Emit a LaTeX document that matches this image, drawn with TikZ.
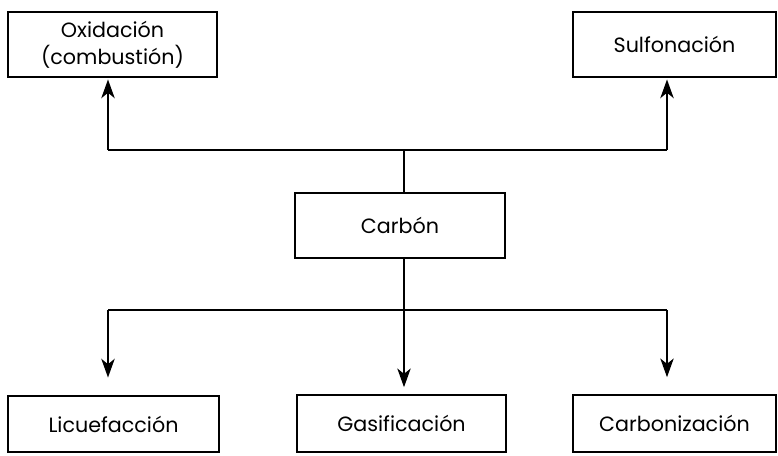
\documentclass[tikz,border=0pt]{standalone}
\usepackage{fontspec}
\setmainfont{Poppins}
\usetikzlibrary{arrows.meta}
\begin{document}
\begin{tikzpicture}[x=0.75pt,y=-0.75pt,
  box/.style={draw, line width=1.7pt, inner sep=0pt, font=\fontsize{15.5}{20}\selectfont, align=center},
  conn/.style={line width=1.6pt},
  arr/.style={conn,-{Stealth[length=14pt,width=10pt,inset=4pt]}}]
\useasboundingbox (0,0) rectangle (778,456);
\node[box, minimum width=156.75pt, minimum height=48.75pt] (ox) at (112.5,44.5) {Oxidación\\(combustión)};
\node[box, minimum width=152.25pt, minimum height=48.75pt] (sulf) at (674.5,44.5) {Sulfonación};
\node[box, minimum width=157.5pt, minimum height=48.75pt] (carbon) at (400,225.5) {Carbón};
\node[box, minimum width=158.25pt, minimum height=42pt] (lic) at (113.5,424) {Licuefacción};
\node[box, minimum width=156.75pt, minimum height=42.75pt] (gas) at (401.5,423.5) {Gasificación};
\node[box, minimum width=152.25pt, minimum height=42.75pt] (carbo) at (674.5,423.5) {Carbonización};
\coordinate (tl) at (108,150);
\coordinate (tr) at (667,150);
\coordinate (tc) at (404,150);
\coordinate (bl) at (108,310);
\coordinate (br) at (667,310);
\coordinate (bc) at (404,310);
\draw[conn] (tc |- carbon.north) -- (tc);
\draw[conn] (tl) -- (tr);
\draw[arr, shorten >=1pt] (tl) -- (tl |- ox.south);
\draw[arr, shorten >=1pt] (tr) -- (tr |- sulf.south);
\draw[conn] (bc |- carbon.south) -- (bc);
\draw[conn] (bl) -- (br);
\draw[arr, shorten >=13pt] (bl) -- (bl |- lic.north);
\draw[arr, shorten >=5pt] (bc) -- (bc |- gas.north);
\draw[arr, shorten >=12.5pt] (br) -- (br |- carbo.north);
\end{tikzpicture}
\end{document}
